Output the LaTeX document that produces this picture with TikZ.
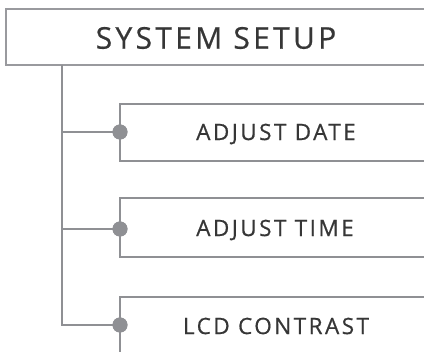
\documentclass[tikz,border=0pt]{standalone}
\usepackage{fontspec}
\setmainfont{Open Sans}
\newfontfamily\labfont{Open Sans}[LetterSpace=11,FakeBold=0.6]
\definecolor{linegray}{HTML}{8F9094}
\definecolor{boxgray}{HTML}{999A9E}
\definecolor{txtgray}{HTML}{363636}
\begin{document}
\begin{tikzpicture}[x=1pt,y=-1pt,
  conn/.style={draw=linegray,line width=2.6pt},
  headbox/.style={draw=boxgray,line width=2.6pt,fill=white},
  itembox/.style={draw=linegray,line width=2.6pt,fill=white},
  headtxt/.style={text=txtgray,font=\labfont\fontsize{30}{34}\selectfont,anchor=center},
  itemtxt/.style={text=txtgray,font=\labfont\fontsize{22.5}{26}\selectfont,anchor=center},
  dot/.style={circle,fill=linegray,inner sep=0pt,minimum size=15pt}]
\useasboundingbox (0,0) rectangle (424,352);
\clip (0,0) rectangle (424,352);
% boxes
\draw[headbox] (6,9) rectangle (440,65);
\draw[itembox] (120,104) rectangle (440,161);
\draw[itembox] (120,198) rectangle (440,257);
\draw[itembox] (120,297) rectangle (440,370);
% texts
\node[headtxt] (sys) at (216,38) {SYSTEM SETUP};
\node[itemtxt] (date) at (276,134) {ADJUST DATE};
\node[itemtxt] (time) at (275,230) {ADJUST TIME};
\node[itemtxt] (lcd) at (276,326) {LCD CONTRAST};
% connectors
\coordinate (top) at (62,65);
\node[dot] (d1) at (120,132) {};
\node[dot] (d2) at (120,229) {};
\node[dot] (d3) at (120,325) {};
\coordinate (j1) at (62,132);
\coordinate (j2) at (62,229);
\coordinate (j3) at (62,325);
\draw[conn] (top) -- (j3) -- (d3.center);
\draw[conn] (j1) -- (d1.center);
\draw[conn] (j2) -- (d2.center);
\node[dot] at (d1) {};
\node[dot] at (d2) {};
\node[dot] at (d3) {};
\end{tikzpicture}
\end{document}
